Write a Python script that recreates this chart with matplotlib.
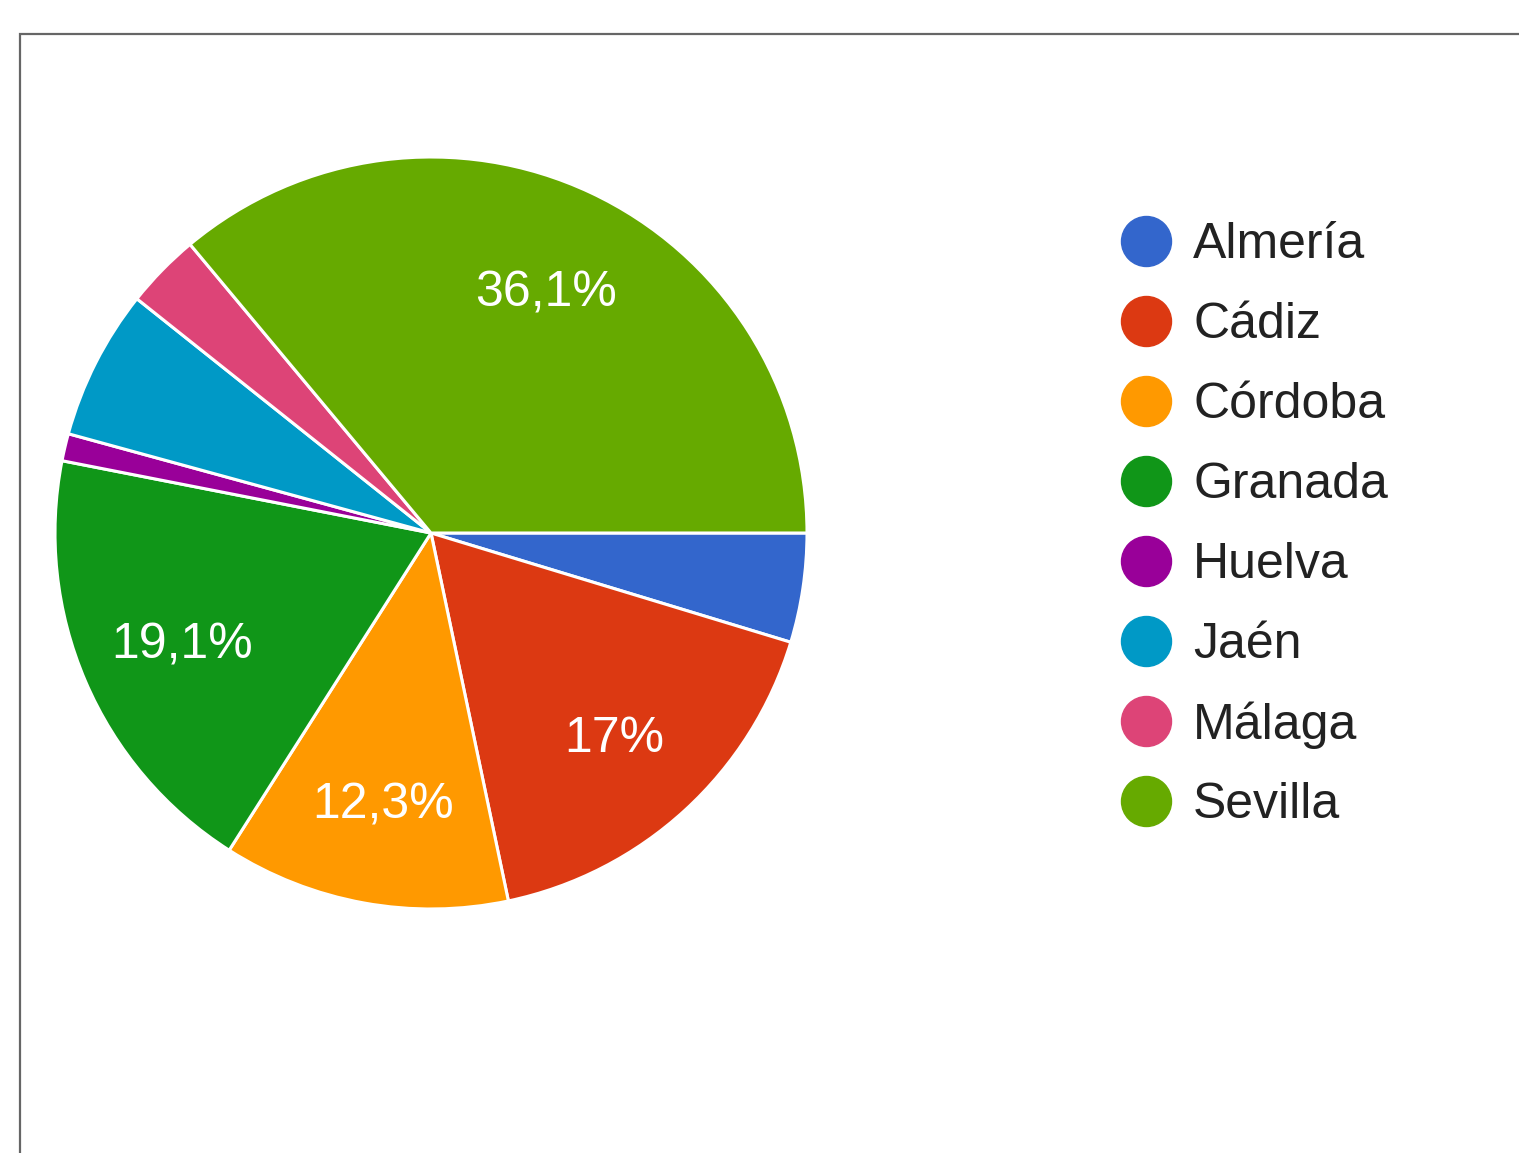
import matplotlib
matplotlib.use("Agg")
import matplotlib.pyplot as plt
from matplotlib.lines import Line2D
from matplotlib.patches import Rectangle
import matplotlib.transforms as mtransforms

categories = ["Almería", "Cádiz", "Córdoba", "Granada", "Huelva", "Jaén", "Málaga", "Sevilla"]
counts = [16, 58, 42, 65, 4, 22, 11, 123]
colors = ["#3366cc", "#dc3912", "#ff9900", "#109618", "#990099", "#0099c6", "#dd4477", "#66aa00"]

plt.rcParams['font.family'] = ['Liberation Sans', 'DejaVu Sans']

W, H = 1519, 1153
fig = plt.figure(figsize=(W / 100, H / 100), dpi=100)
fig.patch.set_facecolor("white")

# frame border
fig.add_artist(Rectangle((20 / W, -0.05), 1.2, (H - 34) / H + 0.05, transform=fig.transFigure,
                         fill=False, edgecolor="#666666", linewidth=1.6))

cx, cy, r = 431, 533, 376
ax = fig.add_axes([(cx - r) / W, (H - cy - r) / H, 2 * r / W, 2 * r / H])


def fmt(p):
    if p < 10:
        return ""
    s = f"{p:.1f}".rstrip("0").rstrip(".").replace(".", ",")
    return s + "%"


wedges, texts, autotexts = ax.pie(counts, colors=colors, startangle=0, counterclock=False,
                                  autopct=fmt, pctdistance=0.72, radius=1,
                                  wedgeprops=dict(edgecolor="white", linewidth=2.2))
shift = mtransforms.ScaledTranslation(0, -6 / 100, fig.dpi_scale_trans)
for t in autotexts:
    t.set_color("white")
    t.set_fontsize(36)
    t.set_transform(t.get_transform() + shift)
ax.set_xlim(-1, 1)
ax.set_ylim(-1, 1)
ax.set_aspect("equal")
ax.axis("off")

# legend
for i, (cat, col) in enumerate(zip(categories, colors)):
    y = 1 - (241 + 80 * i) / H
    fig.add_artist(Line2D([1146 / W], [y], marker="o", markersize=36, color=col,
                          linestyle="none", transform=fig.transFigure))
    fig.text(1193 / W, y - 4 / H, cat, fontsize=36, color="#222222", va="center", ha="left")

fig.savefig("out.png", dpi=100, facecolor="white")
